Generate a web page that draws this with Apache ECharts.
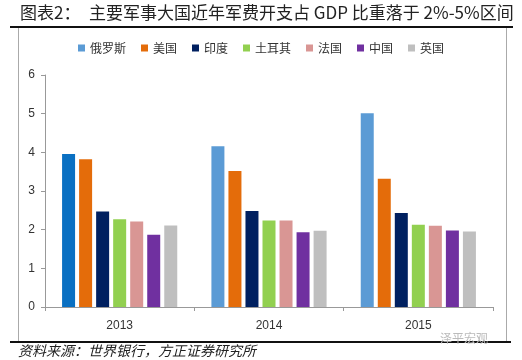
<!DOCTYPE html>
<html><head><meta charset="utf-8">
<script src="https://cdn.jsdelivr.net/npm/echarts@6/dist/echarts.min.js"></script>
<style>html,body{margin:0;padding:0;background:#fff}#c{width:522px;height:360px}</style>
</head><body><div id="c"></div>
<script>
var years = ['2013', '2014', '2015'];
var seriesNames = ['俄罗斯', '美国', '印度', '土耳其', '法国', '中国', '英国'];
var russia = [3.96, 4.16, 5.01];
var usa = [3.82, 3.52, 3.32];
var india = [2.47, 2.48, 2.43];
var turkey = [2.27, 2.24, 2.13];
var france = [2.21, 2.24, 2.10];
var china = [1.87, 1.93, 1.98];
var uk = [2.11, 1.97, 1.95];
var yTicks = [0, 1, 2, 3, 4, 5, 6];

var colors = ['#5B9BD5', '#E46C0A', '#002060', '#92D050', '#D99694', '#7030A0', '#BFBFBF'];
var allData = [russia, usa, india, turkey, france, china, uk];

var series = allData.map(function (d, i) {
  return {
    name: seriesNames[i], type: 'bar', barWidth: 13, barGap: '31%',
    itemStyle: { color: colors[i] },
    data: d.map(function (v, j) {
      if (i === 0 && j === 0) return { value: v, itemStyle: { color: '#0A70C2' } };
      return v;
    })
  };
});

var chart = echarts.init(document.getElementById('c'));
chart.setOption({
  animation: false,
  color: colors,
  grid: { left: 45, right: 29, top: 75, bottom: 53 },
  legend: {
    top: 37, left: 'center', itemWidth: 7, itemHeight: 7, itemGap: 15,
    icon: 'rect',
    textStyle: { fontSize: 12, color: '#333', fontFamily: 'Noto Sans CJK SC' },
    data: seriesNames
  },
  xAxis: {
    type: 'category', data: years,
    axisLine: { lineStyle: { color: '#999' } },
    axisTick: { show: true, length: 4, lineStyle: { color: '#999' } },
    axisLabel: { fontSize: 12, color: '#333', margin: 13, fontFamily: 'Liberation Sans' }
  },
  yAxis: {
    type: 'value', min: yTicks[0], max: yTicks[yTicks.length - 1], interval: 1,
    axisLine: { show: true, lineStyle: { color: '#999' } },
    axisTick: { show: true, length: 4, lineStyle: { color: '#999' } },
    splitLine: { show: false },
    axisLabel: { fontSize: 12, color: '#333', margin: 10, fontFamily: 'Liberation Sans' }
  },
  graphic: [
    { type: 'text', left: 20, top: 4, style: { text: '图表2：', fontSize: 17, fill: '#222', fontFamily: 'Noto Sans CJK SC' } },
    { type: 'text', left: 89, top: 4, style: { text: '主要军事大国近年军费开支占 GDP 比重落于 2%-5%区间', fontSize: 17, fill: '#222', fontFamily: 'Noto Sans CJK SC' } },
    { type: 'rect', shape: { x: 10, y: 26, width: 503, height: 2 }, style: { fill: '#111' } },
    { type: 'line', shape: { x1: 18.5, y1: 28, x2: 18.5, y2: 341 }, style: { stroke: '#aaa', lineWidth: 1 } },
    { type: 'line', shape: { x1: 506.5, y1: 28, x2: 506.5, y2: 341 }, style: { stroke: '#aaa', lineWidth: 1 } },
    { type: 'rect', shape: { x: 10, y: 341, width: 501, height: 2 }, style: { fill: '#111' } },
    { type: 'text', left: 440, top: 332, style: { text: '泽平宏观', fontSize: 12, fill: '#bbb', fontFamily: 'Noto Sans CJK SC' } },
    { type: 'text', left: 18, top: 344, style: { text: '资料来源：世界银行，方正证券研究所', fontSize: 14, fontStyle: 'italic', fill: '#222', fontFamily: 'Noto Sans CJK SC' } }
  ],
  series: series
});
</script></body></html>
